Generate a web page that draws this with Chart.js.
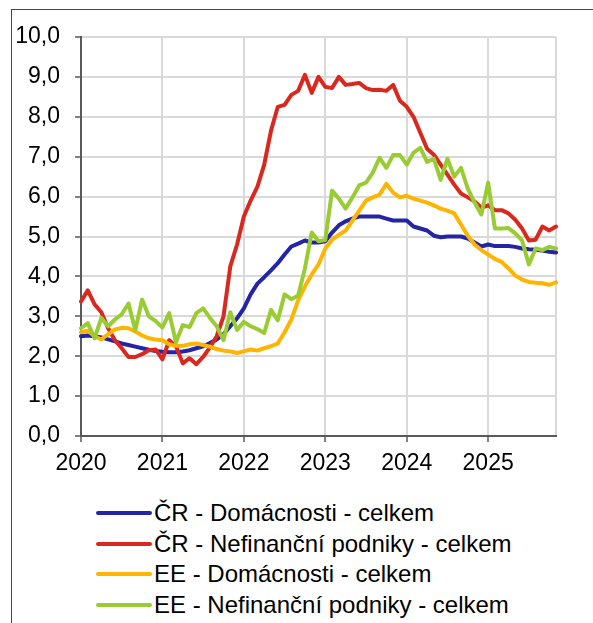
<!DOCTYPE html>
<html>
<head>
<meta charset="utf-8">
<script src="https://cdn.jsdelivr.net/npm/chart.js@4.4.1/dist/chart.umd.min.js"></script>
<style>
  body { margin: 0; background: #fff; font-family: "Liberation Sans", Arial, sans-serif; }
  #wrap { position: relative; width: 593px; height: 623px; overflow: hidden; }
  #frame { position: absolute; left: 11px; top: 9px; width: 700px; height: 700px;
           border-left: 1.5px solid #444; border-top: 1.5px solid #444; }
  #myChart { position: absolute; left: 0; top: 0; }
  #legend { position: absolute; left: 96px; top: 498px; }
  .item { display: flex; align-items: center; height: 30.5px; font-size: 24px; color: #000; }
  .swatch { width: 56px; height: 4px; border-radius: 2px; margin-right: 2px; }
</style>
</head>
<body>
<div id="wrap">
  <div id="frame"></div>
  <canvas id="myChart" width="593" height="490"></canvas>
  <div id="legend"></div>
</div>
<script>
// monthly data Jan 2020 - Nov 2025
const years = ['2020', '2021', '2022', '2023', '2024', '2025'];
const monthCount = 71;

const crHouseholds = [
  2.5, 2.52, 2.5, 2.47, 2.42, 2.37, 2.32, 2.28, 2.24, 2.2, 2.16, 2.13,
  2.11, 2.1, 2.1, 2.12, 2.15, 2.2, 2.25, 2.33, 2.42, 2.55, 2.75, 2.95,
  3.2, 3.55, 3.82, 3.98, 4.15, 4.33, 4.55, 4.75, 4.82, 4.9, 4.85, 4.85,
  4.88, 5.1, 5.28, 5.38, 5.45, 5.5, 5.5, 5.5, 5.5, 5.45, 5.4, 5.4,
  5.4, 5.25, 5.2, 5.15, 5.02, 4.98, 5.0, 5.0, 5.0, 4.95, 4.85, 4.75,
  4.8, 4.76, 4.76, 4.76, 4.74, 4.7, 4.68, 4.67, 4.65, 4.62, 4.6
];
const crFirms = [
  3.37, 3.65, 3.3, 3.1, 2.7, 2.4, 2.2, 1.98, 1.98, 2.05, 2.15, 2.17,
  1.92, 2.4, 2.25, 1.82, 1.95, 1.8, 1.98, 2.22, 2.5, 3.0, 4.25, 4.8,
  5.5, 5.9, 6.25, 6.8, 7.65, 8.25, 8.3, 8.55, 8.65, 9.05, 8.6, 9.0,
  8.75, 8.72, 9.0, 8.8, 8.82, 8.85, 8.72, 8.67, 8.68, 8.65, 8.8, 8.4,
  8.25, 8.0, 7.6, 7.2, 7.05, 6.8, 6.55, 6.3, 6.08, 5.98, 5.88, 5.72,
  5.78, 5.66, 5.66, 5.58, 5.42, 5.2, 4.9, 4.92, 5.25, 5.15, 5.25
];
const eaHouseholds = [
  2.6, 2.64, 2.5, 2.42, 2.55, 2.67, 2.71, 2.7, 2.62, 2.52, 2.45, 2.42,
  2.4, 2.3, 2.26, 2.26, 2.3, 2.32, 2.28, 2.24, 2.18, 2.14, 2.12, 2.08,
  2.12, 2.17, 2.14, 2.2, 2.25, 2.32, 2.6, 2.92, 3.4, 3.75, 4.05, 4.3,
  4.7, 4.92, 5.04, 5.15, 5.4, 5.65, 5.9, 5.98, 6.05, 6.32, 6.1, 5.98,
  6.02, 5.95, 5.9, 5.85, 5.78, 5.7, 5.65, 5.58, 5.3, 5.02, 4.8, 4.66,
  4.55, 4.44, 4.36, 4.2, 4.02, 3.92, 3.86, 3.84, 3.83, 3.79, 3.85
];
const eaFirms = [
  2.7, 2.83, 2.45, 2.96, 2.75, 2.92, 3.05, 3.32, 2.65, 3.42, 3.0, 2.88,
  2.72, 3.08, 2.35, 2.78, 2.73, 3.08, 3.2, 2.96, 2.75, 2.4, 3.1, 2.66,
  2.86, 2.75, 2.68, 2.58, 3.16, 2.9, 3.55, 3.43, 3.52, 4.2, 5.1, 4.88,
  4.91, 6.15, 5.95, 5.7, 5.98, 6.28, 6.35, 6.6, 6.97, 6.72, 7.04, 7.04,
  6.8, 7.1, 7.22, 6.87, 6.95, 6.42, 6.95, 6.5, 6.72, 6.2, 5.85, 5.55,
  6.35, 5.2, 5.2, 5.21, 5.08, 4.9, 4.3, 4.7, 4.66, 4.74, 4.7
];

const seriesNames = [
  'ČR - Domácnosti - celkem',
  'ČR - Nefinanční podniky - celkem',
  'EE - Domácnosti - celkem',
  'EE - Nefinanční podniky - celkem',
];
const seriesColors = ['#2424a6', '#d9291f', '#ffb400', '#99cc33'];

const categories = [];
for (let i = 0; i < monthCount; i++) {
  categories.push(years[Math.floor(i / 12)] + '-' + String((i % 12) + 1).padStart(2, '0'));
}

const fontSpec = { family: '"Liberation Sans", Arial, sans-serif', size: 23 };
const lines = [crHouseholds, crFirms, eaHouseholds, eaFirms];

const chart = new Chart(document.getElementById('myChart'), {
  type: 'line',
  data: {
    labels: categories,
    datasets: lines.map((d, k) => ({
      label: seriesNames[k],
      data: d,
      borderColor: seriesColors[k],
      backgroundColor: seriesColors[k],
      borderWidth: 4,
      pointRadius: 0,
      tension: 0,
      borderJoinStyle: 'round',
      borderCapStyle: 'round',
      order: 4 - k,
    })),
  },
  options: {
    responsive: false,
    animation: false,
    devicePixelRatio: 1,
    layout: { padding: { top: 37, right: 37, left: 0, bottom: 0 } },
    plugins: { legend: { display: false }, tooltip: { enabled: false } },
    scales: {
      x: {
        type: 'category',
        offset: false,
        grid: {
          color: (ctx) => (ctx.index % 12 === 0 || ctx.index === monthCount - 1 ? '#d9d9d9' : 'rgba(0,0,0,0)'),
          tickColor: (ctx) => (ctx.index % 12 === 0 ? '#595959' : 'rgba(0,0,0,0)'),
          lineWidth: 2,
          tickLength: 6,
          tickWidth: 1.5,
        },
        border: { color: '#595959', width: 2 },
        ticks: {
          autoSkip: false,
          maxRotation: 0,
          padding: 8,
          color: '#000',
          font: fontSpec,
          callback: (v, i) => (i % 12 === 0 ? years[i / 12] : ''),
        },
        afterFit: (s) => { s.height = 54; },
      },
      y: {
        min: 0,
        max: 10,
        grid: { color: '#d9d9d9', lineWidth: 2, tickColor: '#595959', tickLength: 6, tickWidth: 1.5 },
        border: { color: '#595959', width: 2 },
        ticks: {
          stepSize: 1,
          padding: 15,
          color: '#000',
          font: fontSpec,
          callback: (v) => v.toFixed(1).replace('.', ','),
        },
        afterFit: (s) => { s.width = 81; },
      },
    },
  },
});

// legend in the page, one series per row
const legend = document.getElementById('legend');
seriesNames.forEach((name, k) => {
  const row = document.createElement('div');
  row.className = 'item';
  const sw = document.createElement('div');
  sw.className = 'swatch';
  sw.style.background = seriesColors[k];
  const txt = document.createElement('span');
  txt.textContent = name;
  row.appendChild(sw);
  row.appendChild(txt);
  legend.appendChild(row);
});
</script>
</body>
</html>
